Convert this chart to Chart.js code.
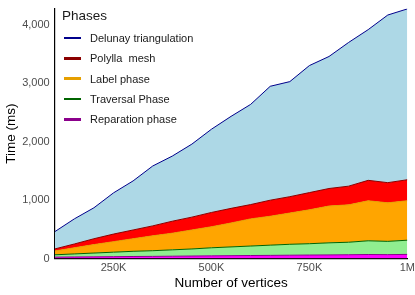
<!DOCTYPE html>
<html>
<head>
<meta charset="utf-8">
<script src="https://cdn.jsdelivr.net/npm/chart.js@4"></script>
<style>
    html, body { margin: 0; padding: 0; background: #fff; }
    #wrap { position: relative; width: 415px; height: 295px; font-family: "Liberation Sans", Arial, sans-serif; }
    #legend { position: absolute; left: 62px; top: 8px; color: #1a1a1a; }
    #legend .title { font-size: 13.5px; margin-bottom: 5px; }
    #legend .item { display: flex; align-items: center; height: 20.3px; font-size: 11px; white-space: pre; }
    #legend .swatch { width: 17px; height: 2.5px; margin-left: 2px; margin-right: 9px; }
</style>
</head>
<body>
<div id="wrap">
    <canvas id="areaChart" width="415" height="295"></canvas>
    <div id="legend"></div>
</div>
<script>
// Data (per phase, in ms)
const vertices = [100000, 150000, 200000, 250000, 300000, 350000, 400000, 450000, 500000, 550000,
                  600000, 650000, 700000, 750000, 800000, 850000, 900000, 950000, 1000000];
const delaunay   = [295, 430, 530, 705, 840, 1025, 1115, 1250, 1425, 1575, 1715, 1950, 1970, 2175, 2260, 2460, 2580, 2870, 2925];
const polylla    = [35, 65, 100, 130, 150, 170, 205, 220, 245, 250, 245, 275, 280, 295, 300, 320, 350, 345, 360];
const labelPhase = [65, 105, 145, 180, 215, 255, 285, 325, 360, 410, 465, 495, 535, 580, 630, 640, 685, 660, 675];
const traversal  = [40, 52, 65, 77, 89, 97, 109, 121, 138, 150, 162, 175, 187, 194, 207, 214, 235, 227, 243];
const reparation = [25, 28, 30, 33, 36, 38, 41, 44, 47, 50, 53, 55, 58, 61, 63, 66, 70, 68, 72];

const xTicks = [250000, 500000, 750000, 1000000];
const xTickLabels = ['250K', '500K', '750K', '1M'];
const yTicks = [0, 1000, 2000, 3000, 4000];

// bottom to top stacking order
const phases = [
    { name: 'Reparation phase',      values: reparation, line: '#8B008B', fill: '#FF00FF' },
    { name: 'Traversal Phase',       values: traversal,  line: '#006400', fill: '#90EE90' },
    { name: 'Label phase',           values: labelPhase, line: '#E69F00', fill: '#FFA500' },
    { name: 'Polylla  mesh',         values: polylla,    line: '#8B0000', fill: '#FF0000' },
    { name: 'Delunay triangulation', values: delaunay,   line: '#00008B', fill: '#ADD8E6' }
];

const datasets = phases.map((p, i) => ({
    label: p.name,
    data: vertices.map((v, j) => ({ x: v, y: p.values[j] })),
    borderColor: p.line,
    backgroundColor: p.fill,
    borderWidth: 1,
    pointRadius: 0,
    tension: 0,
    fill: i === 0 ? 'origin' : '-1'
}));

const tickFont = { family: '"Liberation Sans", Arial, sans-serif', size: 11 };
const titleFont = { family: '"Liberation Sans", Arial, sans-serif', size: 13.5 };

new Chart(document.getElementById('areaChart'), {
    type: 'line',
    data: { datasets: datasets },
    options: {
        responsive: false,
        animation: false,
        layout: { padding: { top: 5, right: 0, left: 3, bottom: 4 } },
        plugins: {
            legend: { display: false },
            tooltip: { enabled: false }
        },
        scales: {
            x: {
                type: 'linear',
                min: 100000,
                max: 1000000,
                afterBuildTicks: axis => { axis.ticks = xTicks.map(v => ({ value: v })); },
                grid: { display: false, drawOnChartArea: false, drawTicks: true, tickLength: 3, color: '#333' },
                border: { display: true, color: '#000', width: 1.2 },
                ticks: {
                    color: '#4D4D4D',
                    font: tickFont,
                    padding: 0,
                    maxRotation: 0,
                    callback: (v) => xTickLabels[xTicks.indexOf(v)]
                },
                title: { display: true, text: 'Number of vertices', color: '#000', font: titleFont, padding: { top: 0, bottom: 0 } }
            },
            y: {
                stacked: true,
                min: 0,
                max: 4280,
                afterBuildTicks: axis => { axis.ticks = yTicks.map(v => ({ value: v })); },
                grid: { display: false, drawOnChartArea: false, drawTicks: true, tickLength: 3, color: '#333' },
                border: { display: true, color: '#000', width: 1.2 },
                ticks: {
                    color: '#4D4D4D',
                    font: tickFont,
                    padding: 2,
                    callback: v => v.toLocaleString('en-US')
                },
                title: { display: true, text: 'Time (ms)', color: '#000', font: titleFont, padding: { top: 0, bottom: 1 } }
            }
        }
    }
});

// Legend drawn inside the plot, top to bottom as in the reference
const legend = document.getElementById('legend');
legend.innerHTML = '<div class="title">Phases</div>' + phases.slice().reverse().map(p =>
    `<div class="item"><span class="swatch" style="background:${p.line}"></span>${p.name}</div>`
).join('');
</script>
</body>
</html>
